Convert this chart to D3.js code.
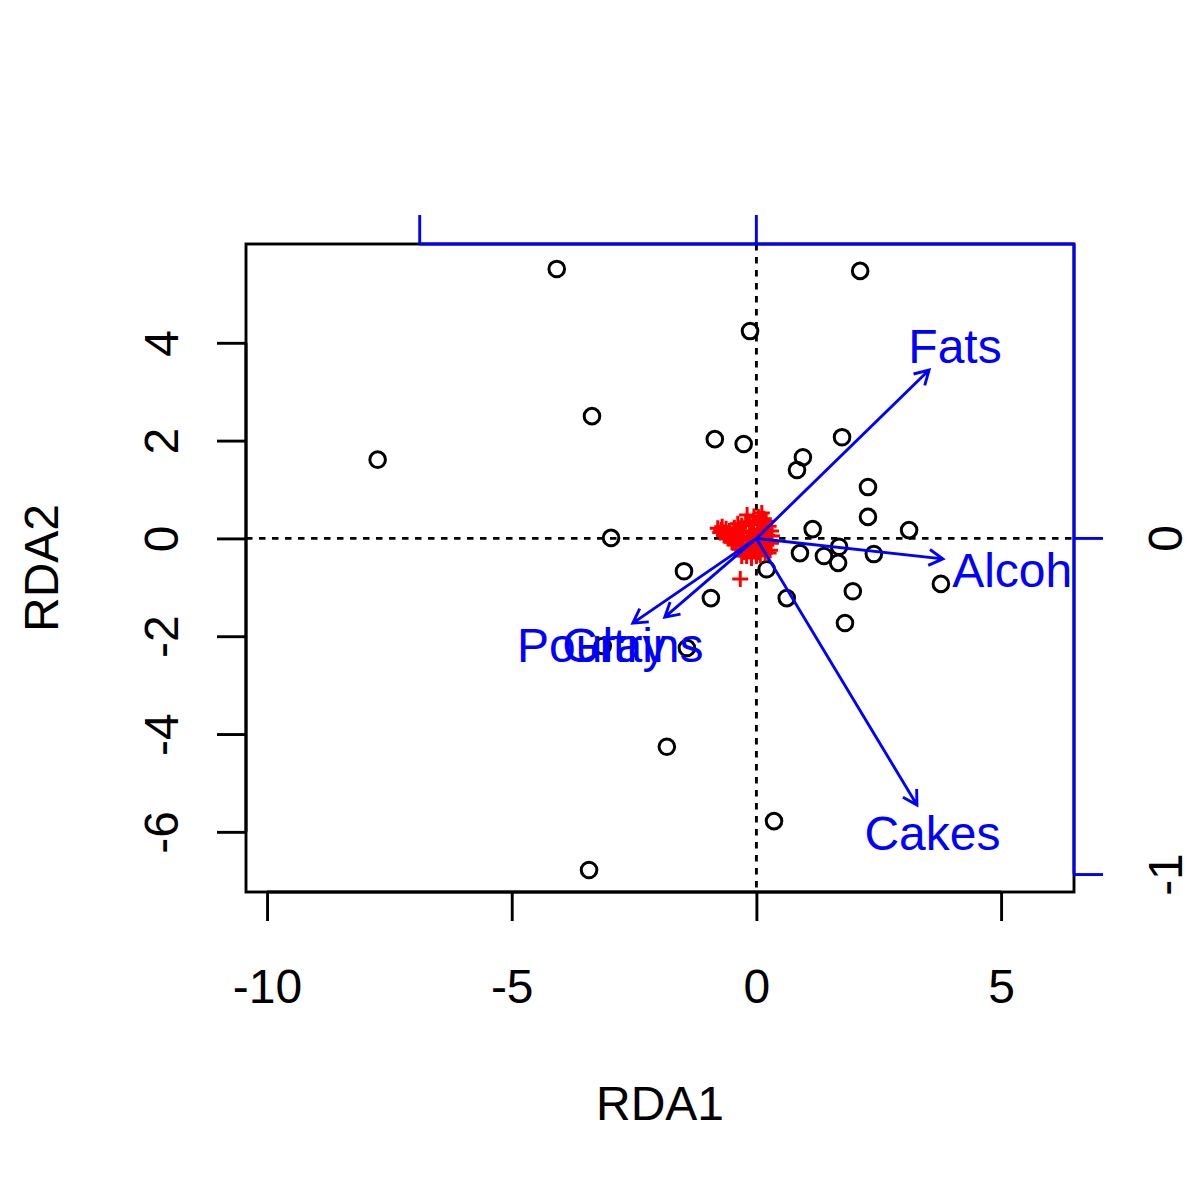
<!DOCTYPE html>
<html>
<head>
<meta charset="utf-8">
<script src="https://cdn.jsdelivr.net/npm/d3@7"></script>
<style>
  html, body { margin: 0; padding: 0; background: #fff; }
  svg { display: block; font-family: "Liberation Sans", Arial, Helvetica, sans-serif; }
</style>
</head>
<body>
<svg id="chart" width="1200" height="1200"></svg>
<script>
// ---- Data ----
// Site scores (black circles): RDA1, RDA2
const siteX = [-4.08, 2.12, -0.13, -3.36, -0.85, -0.26, 1.75, 0.95, 0.83, -7.74,
               2.28, 2.28, 1.15, 3.12, -2.97, 0.89, 1.69, 1.38, 1.67, 2.40,
               3.77, -1.48, 0.21, -0.93, 0.62, 1.97, 1.81, -1.83, 0.36, -3.42,
               -3.14, -1.42];
const siteY = [5.51, 5.47, 4.24, 2.50, 2.03, 1.93, 2.07, 1.66, 1.40, 1.61,
               1.05, 0.44, 0.19, 0.17, 0.01, -0.30, -0.17, -0.36, -0.50, -0.32,
               -0.93, -0.67, -0.63, -1.22, -1.22, -1.08, -1.73, -4.26, -5.78, -6.78,
               -2.20, -2.24];

// Species scores (red crosses)
const speciesX = [-0.79, -0.72, -0.66, -0.60, -0.54, -0.48, -0.42, -0.70, -0.62, -0.55,
                  -0.45, -0.38, -0.30, -0.22, -0.14, -0.06, 0.02, 0.10, -0.19, 0.11, 0.04,
                  -0.40, -0.32, -0.25, -0.18, -0.10, -0.04, 0.04, 0.12, 0.18,
                  -0.28, -0.20, -0.12, -0.05, 0.03, 0.10, 0.16, 0.22, 0.26, 0.20,
                  -0.34, -0.26, -0.18, -0.10, -0.02, 0.06, 0.12, -0.20, 0.00, 0.08,
                  0.28, -0.33,
                  0.30, 0.32, 0.30, 0.25, 0.20, 0.15, -0.05, 0.25, 0.18, -0.30,
                  -0.74, -0.66, -0.58, -0.50, -0.36, -0.46, 0.07, -0.10];
const speciesY = [0.21, 0.17, 0.12, 0.06, 0.00, -0.06, -0.12, 0.24, 0.20, 0.15,
                  0.22, 0.30, 0.26, 0.34, 0.30, 0.36, 0.32, 0.28, 0.48, 0.52, 0.44,
                  0.10, 0.04, 0.12, 0.02, 0.14, 0.06, 0.16, 0.08, 0.18,
                  -0.06, -0.12, -0.04, -0.10, -0.02, -0.08, 0.00, 0.06, -0.05, -0.14,
                  -0.22, -0.28, -0.24, -0.30, -0.22, -0.28, -0.20, -0.36, -0.36, -0.34,
                  -0.24, -0.83,
                  0.15, 0.05, -0.10, 0.25, 0.35, 0.40, 0.45, -0.30, -0.30, -0.36,
                  0.12, 0.06, 0.00, -0.08, -0.14, 0.18, 0.40, -0.40];

// Biplot arrows (constraining variables), in biplot-axis units
const arrowNames = ["Fats", "Alcoh", "Cakes", "Poultry", "Grains"];
const arrowX = [0.513, 0.554, 0.477, -0.367, -0.272];
const arrowY = [0.501, -0.061, -0.793, -0.252, -0.234];
// Label anchor positions (biplot units)
const labelX = [0.590, 0.760, 0.523, -0.489, -0.367];
const labelY = [0.574, -0.095, -0.875, -0.318, -0.318];

// Axis ticks
const xTicks = [-10, -5, 0, 5];
const yTicks = [-6, -4, -2, 0, 2, 4];
const bTicksTop = [-1, 0];
const bTicksRight = [-1, 0];
const xLabel = "RDA1";
const yLabel = "RDA2";

// ---- Layout ----
const L = 246, R = 1074, T = 244, B = 892;
const svg = d3.select("#chart");

const x = d3.scaleLinear().domain([-10.43, 6.49]).range([L, R]);
const y = d3.scaleLinear().domain([-7.23, 6.02]).range([B, T]);
// Secondary (biplot) scales
const xb = d3.scaleLinear().domain([-1.516, 0.9435]).range([L, R]);
const yb = d3.scaleLinear().domain([-1.052, 0.876]).range([B, T]);

const FS = 48;
const LW = 2.9;

// Clip region
svg.append("defs").append("clipPath").attr("id", "plotclip")
  .append("rect").attr("x", L).attr("y", T).attr("width", R - L).attr("height", B - T);

const plot = svg.append("g").attr("clip-path", "url(#plotclip)");

// Dotted zero lines
plot.append("line").attr("x1", L).attr("x2", R).attr("y1", y(0)).attr("y2", y(0))
  .attr("stroke", "#000").attr("stroke-width", LW).attr("stroke-dasharray", "6.5,6.5");
plot.append("line").attr("x1", x(0)).attr("x2", x(0)).attr("y1", T).attr("y2", B)
  .attr("stroke", "#000").attr("stroke-width", LW).attr("stroke-dasharray", "6.5,6.5");

// Site points
const sites = siteX.map((v, i) => ({ x: v, y: siteY[i] }));
plot.selectAll("circle.site").data(sites).enter().append("circle")
  .attr("class", "site")
  .attr("cx", d => x(d.x)).attr("cy", d => y(d.y)).attr("r", 7.8)
  .attr("fill", "none").attr("stroke", "#000").attr("stroke-width", 3);

// Species crosses
const species = speciesX.map((v, i) => ({ x: v, y: speciesY[i] }));
const cs = 8;
plot.selectAll("path.sp").data(species).enter().append("path")
  .attr("class", "sp")
  .attr("d", d => {
    const cx = x(d.x), cy = y(d.y);
    return `M${cx - cs},${cy}H${cx + cs}M${cx},${cy - cs}V${cy + cs}`;
  })
  .attr("stroke", "#ff0000").attr("stroke-width", 3).attr("fill", "none");

// Arrows
const arrows = arrowNames.map((n, i) => ({ name: n, x: arrowX[i], y: arrowY[i], lx: labelX[i], ly: labelY[i] }));
const headLen = 16, headAng = Math.PI / 6;
arrows.forEach(a => {
  const x0 = xb(0), y0 = yb(0), x1 = xb(a.x), y1 = yb(a.y);
  const ang = Math.atan2(y1 - y0, x1 - x0);
  const p1 = [x1 - headLen * Math.cos(ang - headAng), y1 - headLen * Math.sin(ang - headAng)];
  const p2 = [x1 - headLen * Math.cos(ang + headAng), y1 - headLen * Math.sin(ang + headAng)];
  plot.append("path")
    .attr("d", `M${x0},${y0}L${x1},${y1}M${p1[0]},${p1[1]}L${x1},${y1}L${p2[0]},${p2[1]}`)
    .attr("stroke", "#0000ff").attr("stroke-width", LW).attr("fill", "none")
    .attr("stroke-linejoin", "miter");
});
arrows.forEach(a => {
  plot.append("text")
    .attr("x", xb(a.lx)).attr("y", yb(a.ly) + 17)
    .attr("text-anchor", "middle")
    .attr("font-size", FS).attr("fill", "#0000ff")
    .text(a.name);
});

// Box
svg.append("rect").attr("x", L).attr("y", T).attr("width", R - L).attr("height", B - T)
  .attr("fill", "none").attr("stroke", "#000").attr("stroke-width", LW);

// Bottom axis
const gx = svg.append("g").attr("transform", `translate(0,${B})`)
  .call(d3.axisBottom(x).tickValues(xTicks).tickSize(29).tickPadding(0).tickFormat(d3.format("d")));
gx.select(".domain").attr("d", `M${x(xTicks[0])},0H${x(xTicks[xTicks.length - 1])}`)
  .attr("stroke", "#000").attr("stroke-width", LW);
gx.selectAll(".tick line").attr("stroke", "#000").attr("stroke-width", LW);
gx.selectAll(".tick text").attr("font-size", FS).attr("fill", "#000")
  .attr("font-family", "Liberation Sans, Arial, sans-serif")
  .attr("dy", null).attr("y", 111).text(d => d < 0 ? "-" + Math.abs(d) : d);

// Left axis
const gy = svg.append("g").attr("transform", `translate(${L},0)`)
  .call(d3.axisLeft(y).tickValues(yTicks).tickSize(29).tickFormat(d3.format("d")));
gy.select(".domain").attr("d", `M0,${y(yTicks[0])}V${y(yTicks[yTicks.length - 1])}`)
  .attr("stroke", "#000").attr("stroke-width", LW);
gy.selectAll(".tick line").attr("stroke", "#000").attr("stroke-width", LW);
gy.selectAll(".tick text").remove();
gy.selectAll(".tick").append("text")
  .attr("transform", "translate(-68,0) rotate(-90)")
  .attr("text-anchor", "middle").attr("font-size", FS).attr("fill", "#000")
  .attr("font-family", "Liberation Sans, Arial, sans-serif")
  .text(d => d < 0 ? "-" + Math.abs(d) : d);

// Axis titles
svg.append("text").attr("x", (L + R) / 2).attr("y", 1120)
  .attr("text-anchor", "middle").attr("font-size", FS).attr("fill", "#000").text(xLabel);
svg.append("text").attr("transform", `translate(58,${(T + B) / 2}) rotate(-90)`)
  .attr("text-anchor", "middle").attr("font-size", FS).attr("fill", "#000").text(yLabel);

// Blue biplot axes (top and right)
const blue = "#0000ff";
const gt = svg.append("g");
gt.append("line").attr("x1", xb(-1)).attr("x2", R).attr("y1", T).attr("y2", T)
  .attr("stroke", blue).attr("stroke-width", LW);
gt.selectAll("line.tt").data(bTicksTop).enter().append("line")
  .attr("x1", d => xb(d)).attr("x2", d => xb(d)).attr("y1", T).attr("y2", T - 29)
  .attr("stroke", blue).attr("stroke-width", LW);

const gr = svg.append("g");
gr.append("line").attr("x1", R).attr("x2", R).attr("y1", yb(-1)).attr("y2", T)
  .attr("stroke", blue).attr("stroke-width", LW);
gr.selectAll("line.rt").data(bTicksRight).enter().append("line")
  .attr("x1", R).attr("x2", R + 29).attr("y1", d => yb(d)).attr("y2", d => yb(d))
  .attr("stroke", blue).attr("stroke-width", LW);
gr.selectAll("text.rl").data(bTicksRight).enter().append("text")
  .attr("transform", d => `translate(${R + 108},${yb(d)}) rotate(-90)`)
  .attr("text-anchor", "middle").attr("font-size", FS).attr("fill", "#000")
  .text(d => d < 0 ? "-" + Math.abs(d) : d);
</script>
</body>
</html>
